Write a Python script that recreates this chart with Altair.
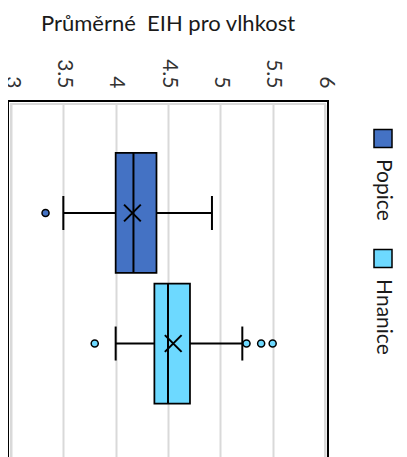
import altair as alt
import pandas as pd

# ---- data ----
series = ["Popice", "Hnanice"]
colors = ["#4472C4", "#6DD9FF"]
lower = [3.50, 4.00]
q1 = [4.00, 4.37]
median = [4.17, 4.50]
q3 = [4.39, 4.71]
upper = [4.92, 5.21]
mean = [4.16, 4.55]
outlier_series = ["Popice", "Hnanice", "Hnanice", "Hnanice", "Hnanice"]
outlier_values = [3.33, 3.80, 5.25, 5.39, 5.50]
tick_values = [3, 3.5, 4, 4.5, 5, 5.5, 6]
title_text = "Průměrné\u00a0 EIH pro vlhkost"

W, H = 314, 360
FONT = "Lato"

stats = pd.DataFrame(dict(series=series, lower=lower, q1=q1, median=median,
                          q3=q3, upper=upper, mean=mean))
outl = pd.DataFrame(dict(series=outlier_series, value=outlier_values))
legend_df = pd.DataFrame(dict(item=series))

color = alt.Color("series:N", scale=alt.Scale(domain=series, range=colors), legend=None)
yband = alt.Y("series:N",
              scale=alt.Scale(domain=series, paddingInner=0, paddingOuter=0.379, align=0.442),
              axis=None)
xscale = alt.Scale(domain=[3, 6], nice=False, zero=False)
xaxis = alt.Axis(orient="top", values=tick_values, format="~g", grid=True,
                 gridColor="#d9d9d9", gridWidth=2, domain=False, ticks=False,
                 labelAngle=90, labelAlign="right", labelBaseline="middle",
                 labelPadding=16, labelFont=FONT, labelFontSize=21,
                 labelColor="#333333", title=None)

base = alt.Chart(stats)

frame = alt.Chart(pd.DataFrame({"k": [0]})).mark_rect(
    fill="transparent", stroke="black", strokeWidth=2
).encode(x=alt.value(-3), x2=alt.value(W + 3), y=alt.value(-3), y2=alt.value(H + 3))

whisker = base.mark_rule(color="black", strokeWidth=2).encode(
    x=alt.X("lower:Q", scale=xscale, axis=xaxis), x2="upper:Q", y=yband)

box = base.mark_bar(size=120, stroke="black", strokeWidth=1.75, opacity=1).encode(
    x=alt.X("q1:Q", scale=xscale), x2="q3:Q", y=yband, color=color)

med = base.mark_tick(size=120, thickness=2, color="black", opacity=1).encode(
    x=alt.X("median:Q", scale=xscale), y=yband)

cap_lo = base.mark_tick(size=34, thickness=2, color="black", opacity=1).encode(
    x=alt.X("lower:Q", scale=xscale), y=yband)
cap_hi = base.mark_tick(size=34, thickness=2, color="black", opacity=1).encode(
    x=alt.X("upper:Q", scale=xscale), y=yband)

meanpt = base.mark_point(shape="M-1,-1L1,1M-1,1L1,-1", size=280, filled=False,
                         color="black", strokeWidth=2, opacity=1).encode(
    x=alt.X("mean:Q", scale=xscale), y=yband)

outpts = alt.Chart(outl).mark_point(filled=True, size=50, stroke="black",
                                    strokeWidth=1.5, opacity=1).encode(
    x=alt.X("value:Q", scale=xscale), y=yband, color=color)

main = alt.layer(frame, whisker, box, med, cap_lo, cap_hi, meanpt, outpts)

leg_y = alt.Y("item:N", scale=alt.Scale(type="point", domain=series, padding=1.086, align=0.144),
              axis=None)
leg_color = alt.Color("item:N", scale=alt.Scale(domain=series, range=colors), legend=None)
leg_sq = alt.Chart(legend_df).mark_square(size=324, stroke="black", strokeWidth=1.5,
                                          opacity=1, filled=True).encode(
    x=alt.value(372), y=leg_y, color=leg_color)
leg_tx = alt.Chart(legend_df).mark_text(angle=90, align="left", baseline="middle", dx=20.5,
                                        font=FONT, fontSize=21, color="#1a1a1a").encode(
    x=alt.value(372), y=leg_y, text="item:N")
legend = alt.layer(leg_sq, leg_tx)

chart = alt.layer(main, legend).resolve_scale(y="independent").properties(
    width=W, height=H,
    title=alt.TitleParams(title_text, anchor="middle", font=FONT, fontSize=22,
                          fontWeight="normal", color="#1a1a1a", offset=6,
                          baseline="alphabetic"),
    padding={"left": 3, "top": 96, "right": 74, "bottom": 0},
    autosize=alt.AutoSizeParams(type="none"),
).configure_view(stroke="#d9d9d9", strokeWidth=2)

chart.save("out.html", embed_options={"renderer": "svg", "actions": False})
